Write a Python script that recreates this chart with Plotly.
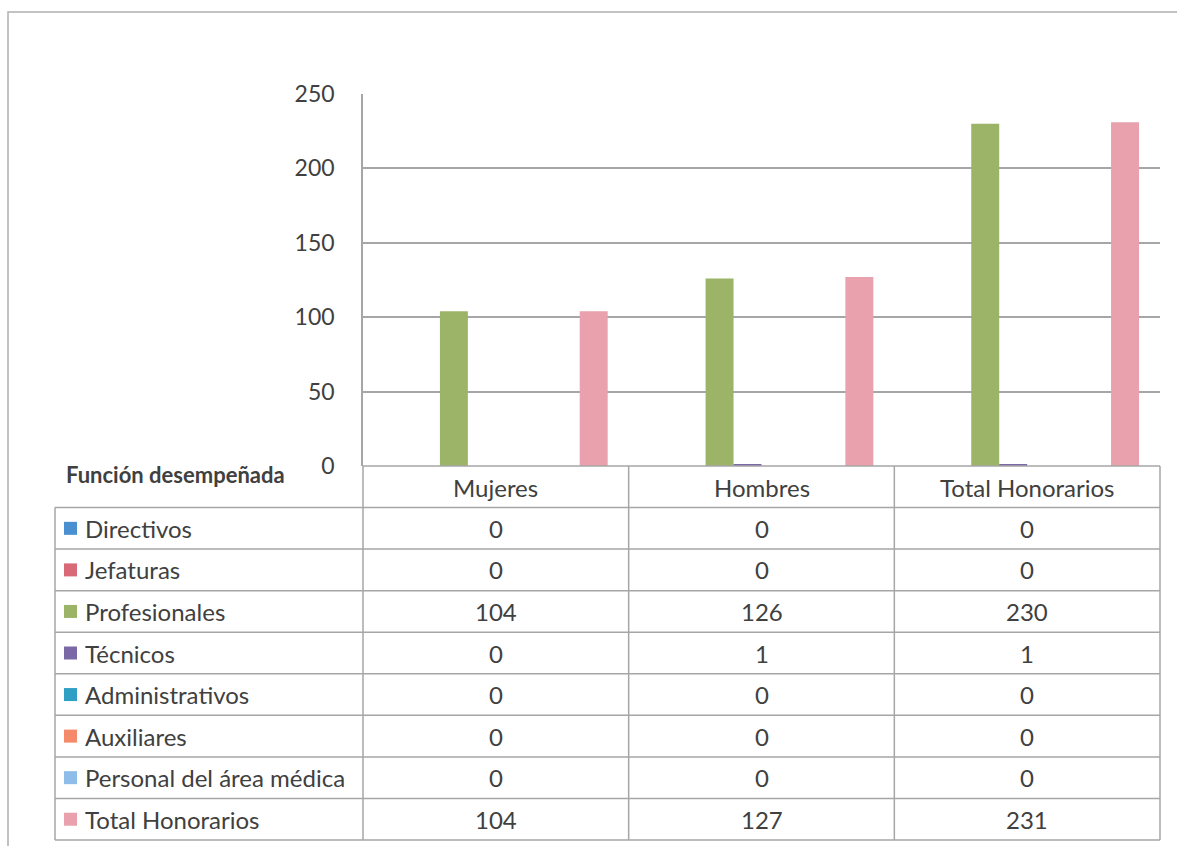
import plotly.graph_objects as go

categories = ["Mujeres", "Hombres", "Total Honorarios"]
series_names = ["Directivos", "Jefaturas", "Profesionales", "Técnicos",
                "Administrativos", "Auxiliares", "Personal del área médica",
                "Total Honorarios"]
directivos = [0, 0, 0]
jefaturas = [0, 0, 0]
profesionales = [104, 126, 230]
tecnicos = [0, 1, 1]
administrativos = [0, 0, 0]
auxiliares = [0, 0, 0]
personal_medico = [0, 0, 0]
total_honorarios = [104, 127, 231]
series_values = [directivos, jefaturas, profesionales, tecnicos,
                 administrativos, auxiliares, personal_medico, total_honorarios]
colors = ["#4a8fd0", "#d86a78", "#9cb468", "#7b68a6",
          "#2f9fc4", "#f48a6a", "#8dbde8", "#e8a1ad"]
y_ticks = [0, 50, 100, 150, 200, 250]
table_title = "Función desempeñada"

W, H = 1177, 846
PL, PR, PT, PB = 363, 1160, 94, 466   # plot area in pixels
TL = 55                                # table left edge
ROW_H = (840 - 466) / 9.0
FONT = "Lato, 'Noto Sans', sans-serif"
TXT = "#404040"
LINE = "#a6a6a6"
TSIZE = 24


def px(x):
    return (x - PL) / (PR - PL)


def py(y):
    return (PB - y) / (PB - PT)


fig = go.Figure()
for name, vals, col in zip(series_names, series_values, colors):
    fig.add_trace(go.Bar(x=categories, y=vals, name=name, marker_color=col,
                         marker_line_width=0, showlegend=False))

fig.update_layout(
    width=W, height=H,
    margin=dict(l=PL, r=W - PR, t=PT, b=H - PB, pad=0),
    paper_bgcolor="white", plot_bgcolor="white",
    barmode="group", bargap=0.158, bargroupgap=0,
    font=dict(family=FONT, color=TXT),
    xaxis=dict(showticklabels=False, showgrid=False, zeroline=False,
               showline=False, ticks=""),
    yaxis=dict(range=[0, 250], tickvals=y_ticks, showgrid=True, gridcolor=LINE,
               gridwidth=1.5, zeroline=False, showline=True, linecolor=LINE,
               linewidth=1.5, ticks="", tickfont=dict(size=23, color=TXT),
               ticklabelstandoff=22),
)

shapes = []


def hline(x0, x1, y):
    shapes.append(dict(type="line", xref="paper", yref="paper",
                       x0=px(x0), x1=px(x1), y0=py(y), y1=py(y),
                       line=dict(color=LINE, width=1.5), layer="above"))


def vline(x, y0, y1):
    shapes.append(dict(type="line", xref="paper", yref="paper",
                       x0=px(x), x1=px(x), y0=py(y0), y1=py(y1),
                       line=dict(color=LINE, width=1.5), layer="above"))


def label(x, y, text, size=TSIZE, xanchor="center"):
    return dict(x=px(x), y=py(y), xref="paper", yref="paper", text=text,
                showarrow=False, xanchor=xanchor, yanchor="middle",
                font=dict(size=size, color=TXT, family=FONT))


# outer chart border
shapes.append(dict(type="rect", xref="paper", yref="paper",
                   x0=px(8), x1=px(W + 5), y0=py(12), y1=py(H + 5),
                   line=dict(color="#b0b0b0", width=1.5), fillcolor="rgba(0,0,0,0)"))

col_edges = [PL + i * (PR - PL) / 3 for i in range(4)]
n_rows = len(series_names)
row_tops = [PB + ROW_H * (i + 1) for i in range(n_rows + 1)]

hline(PL, PR, PB)
for cx in col_edges:
    vline(cx, PB, row_tops[-1])
for yy in row_tops:
    hline(TL, PR, yy)
vline(TL, row_tops[0], row_tops[-1])

annotations = []
for i, cat in enumerate(categories):
    annotations.append(label((col_edges[i] + col_edges[i + 1]) / 2,
                             PB + ROW_H / 2 + 1, cat))
annotations.append(label(64, 474, "<b>" + table_title + "</b>", size=22,
                         xanchor="left"))

for r, (name, vals, col) in enumerate(zip(series_names, series_values, colors)):
    yc = row_tops[r] + ROW_H / 2
    shapes.append(dict(type="rect", xref="paper", yref="paper",
                       x0=px(64), x1=px(77), y0=py(yc - 6.5), y1=py(yc + 6.5),
                       line=dict(width=0), fillcolor=col))
    annotations.append(label(83, yc, name, xanchor="left"))
    for i, v in enumerate(vals):
        annotations.append(label((col_edges[i] + col_edges[i + 1]) / 2, yc, str(v)))

fig.update_layout(shapes=shapes, annotations=annotations)
fig.write_html("out.html")
